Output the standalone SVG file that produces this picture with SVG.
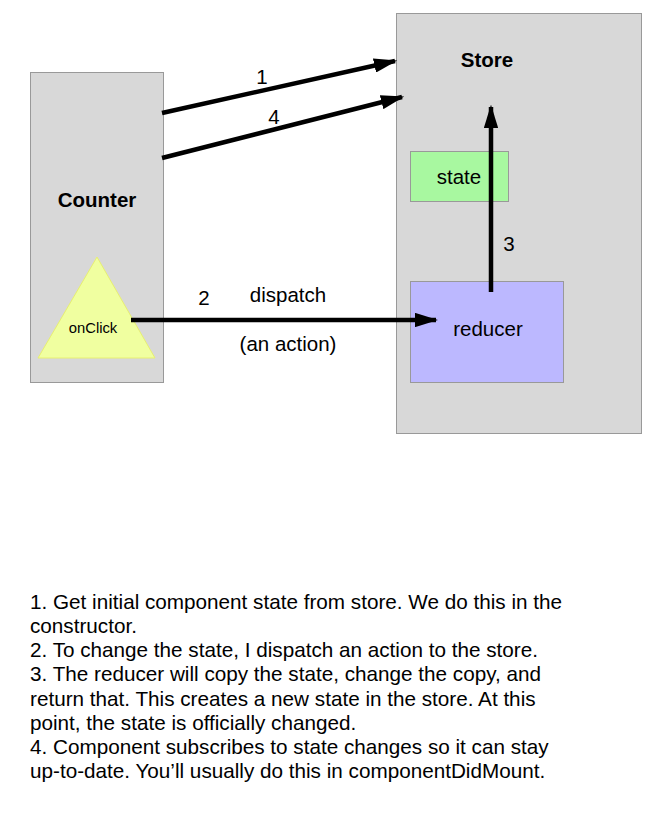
<svg xmlns="http://www.w3.org/2000/svg" width="657" height="825" viewBox="0 0 657 825">
<style>
text{font-family:"Liberation Sans",Arial,sans-serif;fill:#000}
.box{fill:#d8d8d8;stroke:#999;stroke-width:1}
.lbl{font-size:20.5px;text-anchor:middle}
.bold{font-weight:bold}
.con{stroke:#000;stroke-width:4.5;fill:none;marker-end:url(#ah)}
.body{font-size:20.7px}
</style>
<defs>
<marker id="ah" viewBox="0 0 10 10" refX="9" refY="5" markerWidth="5.2" markerHeight="3.2" orient="auto" markerUnits="strokeWidth" preserveAspectRatio="none">
<path d="M0,0 L10,5 L0,10 z" fill="#000"/>
</marker>
</defs>
<rect width="657" height="825" fill="#fff"/>
<g id="counter">
<rect class="box" x="30.5" y="72.5" width="133" height="310"/>
<text class="lbl bold" x="97" y="207">Counter</text>
</g>
<g id="onClick">
<polygon points="97,257 38,358 155,358" fill="#f0ffa0" stroke="#e8f070" stroke-width="1"/>
<text x="93" y="333" font-size="14.8" text-anchor="middle">onClick</text>
</g>
<g id="store">
<rect class="box" x="396.5" y="13.5" width="245" height="420"/>
<text class="lbl bold" x="487" y="67">Store</text>
</g>
<g id="state">
<rect x="410.5" y="151.5" width="98" height="50" fill="#a8f8a0" stroke="#999" stroke-width="1"/>
<text class="lbl" x="459" y="184">state</text>
</g>
<g id="reducer">
<rect x="410.5" y="281.5" width="153" height="101" fill="#bcb8ff" stroke="#999" stroke-width="1"/>
<text class="lbl" x="488" y="336">reducer</text>
</g>
<g id="connectors">
<line class="con" x1="162" y1="113" x2="395" y2="61"/>
<line class="con" x1="162" y1="158" x2="402" y2="97"/>
<line class="con" x1="131" y1="320" x2="436" y2="320"/>
<line class="con" x1="491" y1="292" x2="491" y2="107"/>
<text class="lbl" x="262" y="84">1</text>
<text class="lbl" x="274" y="124">4</text>
<text class="lbl" x="204" y="305">2</text>
<text class="lbl" x="288" y="302">dispatch</text>
<text class="lbl" x="288" y="351">(an action)</text>
<text class="lbl" x="509" y="251">3</text>
</g>
<g id="notes" class="body">
<text x="30" y="609">1. Get initial component state from store. We do this in the</text>
<text x="30" y="633">constructor.</text>
<text x="30" y="657">2. To change the state, I dispatch an action to the store.</text>
<text x="30" y="681">3. The reducer will copy the state, change the copy, and</text>
<text x="30" y="706">return that. This creates a new state in the store. At this</text>
<text x="30" y="730">point, the state is officially changed.</text>
<text x="30" y="754">4. Component subscribes to state changes so it can stay</text>
<text x="30" y="778">up-to-date. You’ll usually do this in componentDidMount.</text>
</g>
</svg>
